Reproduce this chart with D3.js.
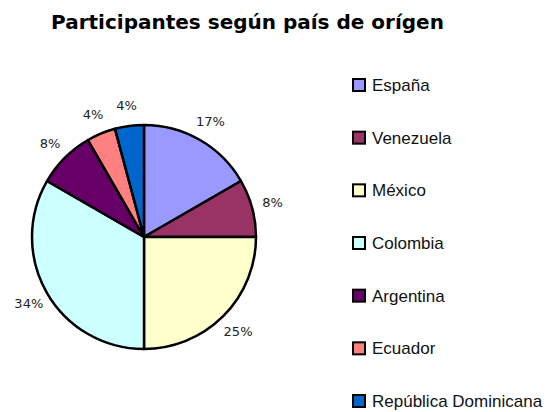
<!DOCTYPE html>
<html>
<head>
<meta charset="utf-8">
<script src="https://cdn.jsdelivr.net/npm/d3@7"></script>
<style>
  body { margin: 0; background: #fff; }
  svg { display: block; }
</style>
</head>
<body>
<svg id="chart" width="551" height="412"></svg>
<script>
// data (participants per country)
const countries = ['España', 'Venezuela', 'México', 'Colombia', 'Argentina', 'Ecuador', 'República Dominicana'];
const counts = [4, 2, 6, 8, 2, 1, 1];
const colors = ['#9999FF', '#993366', '#FFFFCC', '#CCFFFF', '#660066', '#FF8080', '#0066CC'];
const title = 'Participantes según país de orígen';

const svg = d3.select('#chart');

// ----- percentages, rounded so they add up to 100 (like the spreadsheet does)
const total = d3.sum(counts);
const raw = counts.map(c => c / total * 100);
const pct = raw.map(Math.floor);
const rest = raw.map((r, i) => Math.round((r - pct[i]) * 1e6) / 1e6);
const missing = 100 - d3.sum(pct);
d3.range(counts.length)
    .sort((a, b) => (rest[b] - rest[a]) || (counts[b] - counts[a]))
    .slice(0, missing)
    .forEach(i => { pct[i] += 1; });

// ----- title
svg.append('text')
    .attr('x', 247.5)
    .attr('y', 29)
    .attr('text-anchor', 'middle')
    .style('font-family', 'Verdana, "DejaVu Sans", sans-serif')
    .style('font-weight', 'bold')
    .style('font-size', '20px')
    .text(title);

// ----- pie
const cx = 144, cy = 237, radius = 112;
const pie = d3.pie().sort(null).value(d => d)(counts);
const arc = d3.arc().innerRadius(0).outerRadius(radius);
const labelArc = d3.arc().innerRadius(133).outerRadius(133);

const gPie = svg.append('g').attr('transform', `translate(${cx},${cy})`);

gPie.selectAll('path')
    .data(pie)
    .enter()
    .append('path')
    .attr('d', arc)
    .attr('fill', (d, i) => colors[i])
    .attr('stroke', '#000')
    .attr('stroke-width', 2.5)
    .attr('stroke-linejoin', 'round');

gPie.selectAll('text')
    .data(pie)
    .enter()
    .append('text')
    .attr('transform', d => `translate(${labelArc.centroid(d)})`)
    .attr('text-anchor', 'middle')
    .attr('dy', '0.35em')
    .style('font-family', 'Verdana, "DejaVu Sans", sans-serif')
    .style('font-size', '13px')
    .style('fill', '#222')
    .text((d, i) => pct[i] + '%');

// ----- legend
const legendY = d3.scalePoint().domain(countries).range([85, 401]);

const legend = svg.append('g')
    .selectAll('g')
    .data(countries)
    .enter()
    .append('g')
    .attr('transform', d => `translate(352,${legendY(d)})`);

legend.append('rect')
    .attr('x', 1)
    .attr('y', -6)
    .attr('width', 12)
    .attr('height', 12)
    .attr('fill', (d, i) => colors[i])
    .attr('stroke', '#000')
    .attr('stroke-width', 2);

legend.append('text')
    .attr('x', 20)
    .attr('y', 6)
    .style('font-family', 'Arial, "Liberation Sans", sans-serif')
    .style('font-size', '17px')
    .style('fill', '#111')
    .text(d => d);
</script>
</body>
</html>
